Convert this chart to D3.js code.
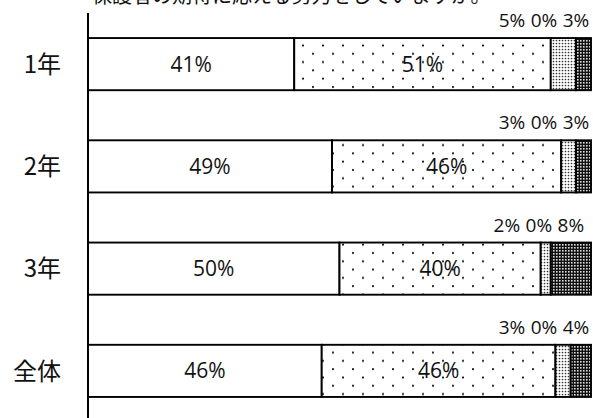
<!DOCTYPE html>
<html>
<head>
<meta charset="utf-8">
<script src="https://cdn.jsdelivr.net/npm/d3@7"></script>
<style>
  html, body { margin: 0; padding: 0; background: #fff; }
  svg { display: block; }
</style>
</head>
<body>
<svg id="chart" width="593" height="418"></svg>
<script>
// ---- data ----
const title = "保護者の期待に応える努力をしていますか。";
const categories = ["1年", "2年", "3年", "全体"];
const seriesKeys = ["s1", "s2", "s3", "s4", "s5"];
const s1 = [41, 49, 50, 46];
const s2 = [51, 46, 40, 46];
const s3 = [5, 3, 2, 3];
const s4 = [0, 0, 0, 0];
const s5 = [3, 3, 8, 4];
const seriesValues = [s1, s2, s3, s4, s5];
const xDomain = [0, 1];

// ---- layout ----
const W = 593, H = 418;
const left = 88, right = 591;
const svg = d3.select("#chart");
const jpFont = "'Noto Sans CJK JP', sans-serif";
const numFont = "'Open Sans', 'Liberation Sans', sans-serif";

const rows = categories.map((c, i) => {
  const r = { cat: c };
  seriesKeys.forEach((k, j) => r[k] = seriesValues[j][i]);
  return r;
});
const stacked = d3.stack().keys(seriesKeys).offset(d3.stackOffsetExpand)(rows);

const x = d3.scaleLinear().domain(xDomain).range([left, right]);
const y = d3.scaleBand().domain(categories).range([13, 422])
  .paddingInner(0.49).paddingOuter(0.245);

// ---- patterns ----
const defs = svg.append("defs");
const pDots = defs.append("pattern").attr("id", "pDots").attr("patternUnits", "userSpaceOnUse")
  .attr("width", 20).attr("height", 16.6).attr("x", left);
pDots.append("rect").attr("width", 20).attr("height", 16.6).attr("fill", "#fff");
pDots.append("circle").attr("cx", 5).attr("cy", 4).attr("r", 1.05).attr("fill", "#000");
pDots.append("circle").attr("cx", 15).attr("cy", 12.3).attr("r", 1.05).attr("fill", "#000");

const pFine = defs.append("pattern").attr("id", "pFine").attr("patternUnits", "userSpaceOnUse")
  .attr("width", 3).attr("height", 3);
pFine.append("rect").attr("width", 3).attr("height", 3).attr("fill", "#fff");
pFine.append("circle").attr("cx", 1.5).attr("cy", 1.5).attr("r", 0.85).attr("fill", "#333");

const pDark = defs.append("pattern").attr("id", "pDark").attr("patternUnits", "userSpaceOnUse")
  .attr("width", 3).attr("height", 3);
pDark.append("rect").attr("width", 3).attr("height", 3).attr("fill", "#111");
pDark.append("rect").attr("x", 1).attr("y", 1).attr("width", 1.6).attr("height", 1.6).attr("fill", "#ddd");

const fills = { s1: "#fff", s2: "url(#pDots)", s3: "url(#pFine)", s4: "#999", s5: "url(#pDark)" };

// ---- title (cut off at the top like the reference) ----
svg.append("text").attr("x", 92).attr("y", 3)
  .attr("font-family", jpFont).attr("font-size", 20).attr("fill", "#111")
  .text(title);

// ---- bars ----
const g = svg.append("g");
stacked.forEach(layer => {
  g.selectAll(null).data(layer).enter().append("rect")
    .attr("x", d => x(d[0]))
    .attr("y", d => y(d.data.cat))
    .attr("width", d => Math.max(0, x(d[1]) - x(d[0])))
    .attr("height", y.bandwidth())
    .attr("fill", fills[layer.key])
    .attr("stroke", "#000")
    .attr("stroke-width", d => (d[1] - d[0]) > 0 ? 1.9 : 0);
});

// ---- axis line ----
svg.append("line").attr("x1", left).attr("x2", left).attr("y1", 13).attr("y2", H)
  .attr("stroke", "#000").attr("stroke-width", 2);

// ---- category labels ----
svg.selectAll(".cat").data(categories).enter().append("text")
  .attr("x", 61).attr("y", d => y(d) + y.bandwidth() / 2)
  .attr("dy", "0.36em").attr("text-anchor", "end")
  .attr("font-family", jpFont).attr("font-size", 24).attr("fill", "#111")
  .text(d => d);

// ---- inside labels (first two series) ----
stacked.slice(0, 2).forEach((layer, j) => {
  svg.selectAll(null).data(layer).enter().append("text")
    .attr("x", d => (x(d[0]) + x(d[1])) / 2)
    .attr("y", d => y(d.data.cat) + y.bandwidth() / 2)
    .attr("dy", "0.36em").attr("text-anchor", "middle")
    .attr("font-family", numFont).attr("font-size", 21).attr("fill", "#111")
    .text((d, i) => seriesValues[j][i] + "%");
});

// ---- small segment labels above the bars, dodged from the right ----
const halfW = 14, gap = 4;
categories.forEach((c, i) => {
  let prevLeft = right;
  for (let j = 4; j >= 2; j--) {
    const d = stacked[j][i];
    let cx = Math.min((x(d[0]) + x(d[1])) / 2, prevLeft - gap - halfW);
    if (j === 4) cx = Math.min((x(d[0]) + x(d[1])) / 2, right - halfW - 1);
    prevLeft = cx - halfW;
    svg.append("text")
      .attr("x", cx).attr("y", y(c) - 11)
      .attr("text-anchor", "middle")
      .attr("font-family", numFont).attr("font-size", 19).attr("fill", "#111")
      .text(seriesValues[j][i] + "%");
  }
});
</script>
</body>
</html>
